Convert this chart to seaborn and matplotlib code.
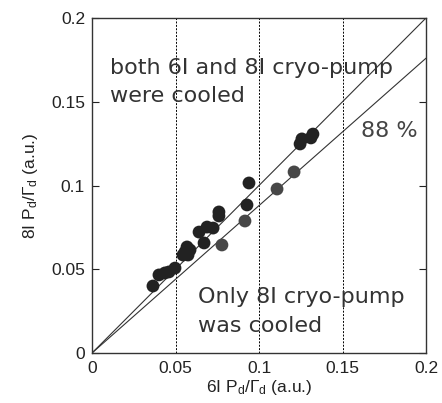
import matplotlib
matplotlib.use("Agg")
import matplotlib.pyplot as plt
import seaborn as sns
import numpy as np
import pandas as pd

# data
both_x = [0.0365, 0.0401, 0.0437, 0.0461, 0.0497, 0.0545, 0.0557, 0.0569, 0.0575, 0.0587,
          0.0641, 0.0671, 0.0689, 0.0725, 0.0760, 0.0760, 0.0928, 0.0940, 0.1246, 0.1257,
          0.1311, 0.1323]
both_y = [0.0400, 0.0466, 0.0478, 0.0484, 0.0507, 0.0585, 0.0603, 0.0633, 0.0585, 0.0615,
          0.0722, 0.0657, 0.0752, 0.0746, 0.0842, 0.0818, 0.0884, 0.1015, 0.1248, 0.1278,
          0.1284, 0.1307]
only8_x = [0.0778, 0.0916, 0.1108, 0.1210]
only8_y = [0.0645, 0.0788, 0.0979, 0.1081]
line_x = [0.0, 0.2]
slopes = [1.0, 0.88]
ticks = [0, 0.05, 0.1, 0.15, 0.2]
tick_labels = ["0", "0.05", "0.1", "0.15", "0.2"]

sns.set_style("white")
plt.rcParams['font.family'] = ['Liberation Sans', 'DejaVu Sans']
plt.rcParams['mathtext.fontset'] = 'custom'
plt.rcParams['mathtext.rm'] = 'Liberation Sans'
plt.rcParams['mathtext.it'] = 'Liberation Sans'

fig = plt.figure(figsize=(4.42, 4.03), dpi=100)
ax = fig.add_axes([92/442, 50/403, 334/442, 335/403])

for s in slopes:
    df = pd.DataFrame({"x": line_x, "y": [s * v for v in line_x]})
    sns.lineplot(data=df, x="x", y="y", ax=ax, color="#333333", linewidth=0.8)

sns.scatterplot(x=only8_x, y=only8_y, ax=ax, color="#474747", s=85, edgecolor="none", zorder=3)
sns.scatterplot(x=both_x, y=both_y, ax=ax, color="#222222", s=85, edgecolor="none", zorder=3)

for v in ticks[1:-1]:
    ax.axvline(v, color="black", linestyle=(0, (2, 1.5)), linewidth=0.7, zorder=1)

ax.set_xlim(0, 0.2)
ax.set_ylim(0, 0.2)
ax.set_xticks(ticks)
ax.set_xticklabels(tick_labels)
ax.set_yticks(ticks)
ax.set_yticklabels(tick_labels)
ax.tick_params(axis="y", direction="in", length=5, width=0.8, right=True, left=True,
               labelsize=12.5, colors="#222222", pad=5)
ax.tick_params(axis="x", direction="in", length=0, labelsize=12.5, colors="#222222", pad=6)
for sp in ax.spines.values():
    sp.set_color("#333333")
    sp.set_linewidth(1.0)

ax.set_xlabel(r"6I P$_{\rm d}$/Γ$_{\rm d}$ (a.u.)", fontsize=12.5, color="#222222", labelpad=1)
ax.set_ylabel(r"8I P$_{\rm d}$/Γ$_{\rm d}$ (a.u.)", fontsize=12.5, color="#222222", labelpad=8)

tf = dict(family=["DejaVu Sans"], fontsize=16, color="#333333")
ax.text(0.011, 0.1666, "both 6I and 8I cryo-pump", **tf)
ax.text(0.011, 0.1500, "were cooled", **tf)
ax.text(0.161, 0.129, "88 %", family=["DejaVu Sans"], fontsize=16, color="#444444")
ax.text(0.0635, 0.0299, "Only 8I cryo-pump", **tf)
ax.text(0.0635, 0.0125, "was cooled", **tf)

fig.savefig("out.png", dpi=100)
